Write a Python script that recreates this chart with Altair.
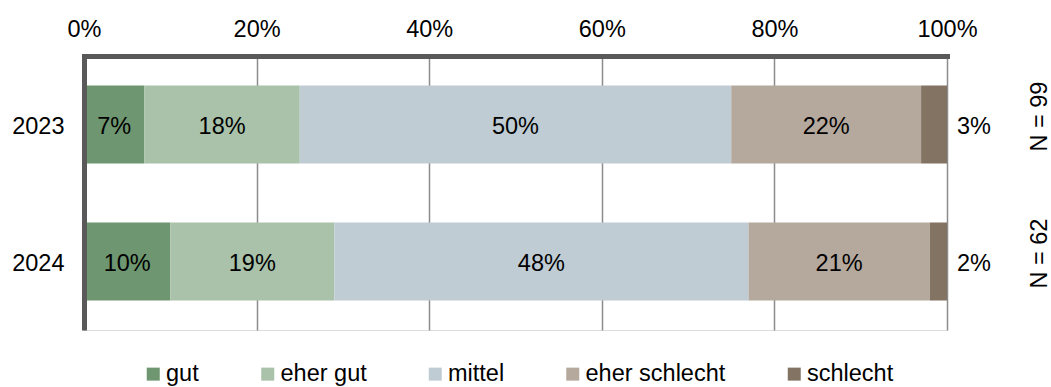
import altair as alt
import pandas as pd

# Survey ratings per year, shares in percent
years = ["2023", "2024"]
categories = ["gut", "eher gut", "mittel", "eher schlecht", "schlecht"]
shares_2023 = [7, 18, 50, 22, 3]
shares_2024 = [10, 19, 48, 21, 2]
sample_sizes = [99, 62]
colors = ["#6E9670", "#A9C2A9", "#BFCCD4", "#B5A99E", "#827363"]
tick_values = [0, 20, 40, 60, 80, 100]

FONT = "Liberation Sans"
FS = 23.5

rows = []
for year, shares in zip(years, [shares_2023, shares_2024]):
    start = 0
    for i, (cat, v) in enumerate(zip(categories, shares)):
        rows.append({"year": year, "cat": cat, "order": i, "v": v,
                     "start": start, "end": start + v,
                     "mid": start + v / 2, "label": f"{v}%"})
        start += v
df = pd.DataFrame(rows)
n_df = pd.DataFrame({"year": years, "n": [f"N = {n}" for n in sample_sizes]})

y_enc = alt.Y("year:N", sort=years,
              scale=alt.Scale(paddingInner=0.43, paddingOuter=0.215),
              axis=alt.Axis(title=None, ticks=False, domainWidth=5,
                            domainColor="#595959", labelFont=FONT,
                            labelFontSize=FS, labelColor="#000000",
                            labelPadding=20, labelOffset=2, zindex=1))
x_scale = alt.Scale(domain=[0, 100], nice=False)

bars = alt.Chart(df).mark_bar(strokeWidth=0).encode(
    x=alt.X("start:Q", scale=x_scale,
            axis=alt.Axis(orient="top", values=tick_values, title=None,
                          ticks=False, labelExpr="datum.value + '%'",
                          labelFlush=False, labelBound=False,
                          labelFont=FONT, labelFontSize=FS,
                          labelColor="#000000", labelBaseline="alphabetic",
                          labelPadding=20, domainWidth=5,
                          domainColor="#595959", domainCap="square",
                          grid=True, gridColor="#8C8C8C", gridWidth=1.5)),
    x2="end:Q",
    y=y_enc,
    color=alt.Color("cat:N", sort=categories,
                    scale=alt.Scale(domain=categories, range=colors),
                    legend=alt.Legend(title=None, orient="none",
                                      legendX=57.5, legendY=306,
                                      direction="horizontal", columns=5,
                                      symbolType="square", symbolSize=169,
                                      symbolStrokeWidth=0, labelFont=FONT,
                                      labelFontSize=FS, labelColor="#000000",
                                      labelOffset=1, columnPadding=56.5)),
    order=alt.Order("order:Q"),
)

inside = alt.Chart(df).transform_filter(
    "datum.cat != 'schlecht'"
).mark_text(font=FONT, fontSize=FS, color="#000000",
            baseline="alphabetic", dy=9).encode(
    x=alt.X("mid:Q", scale=x_scale),
    y=alt.Y("year:N", sort=years),
    text="label:N",
)

outside = alt.Chart(df).transform_filter(
    "datum.cat == 'schlecht'"
).mark_text(font=FONT, fontSize=FS, color="#000000", align="left",
            baseline="alphabetic", dx=10, dy=9).encode(
    x=alt.X("end:Q", scale=x_scale),
    y=alt.Y("year:N", sort=years),
    text="label:N",
)

n_labels = alt.Chart(n_df).mark_text(
    font=FONT, fontSize=FS, color="#000000", angle=270, align="center",
    baseline="alphabetic", dx=8, dy=100,
).encode(
    x=alt.datum(100),
    y=alt.Y("year:N", sort=years),
    text="n:N",
)

chart = alt.layer(bars, inside, outside, n_labels).properties(
    width=863, height=274,
    padding={"left": 84, "top": 56, "right": 104, "bottom": 57},
    autosize=alt.AutoSizeParams(type="none"),
).configure_view(stroke=None).configure(background="#FFFFFF")

chart.save("out.html", embed_options={"renderer": "svg", "actions": False})
